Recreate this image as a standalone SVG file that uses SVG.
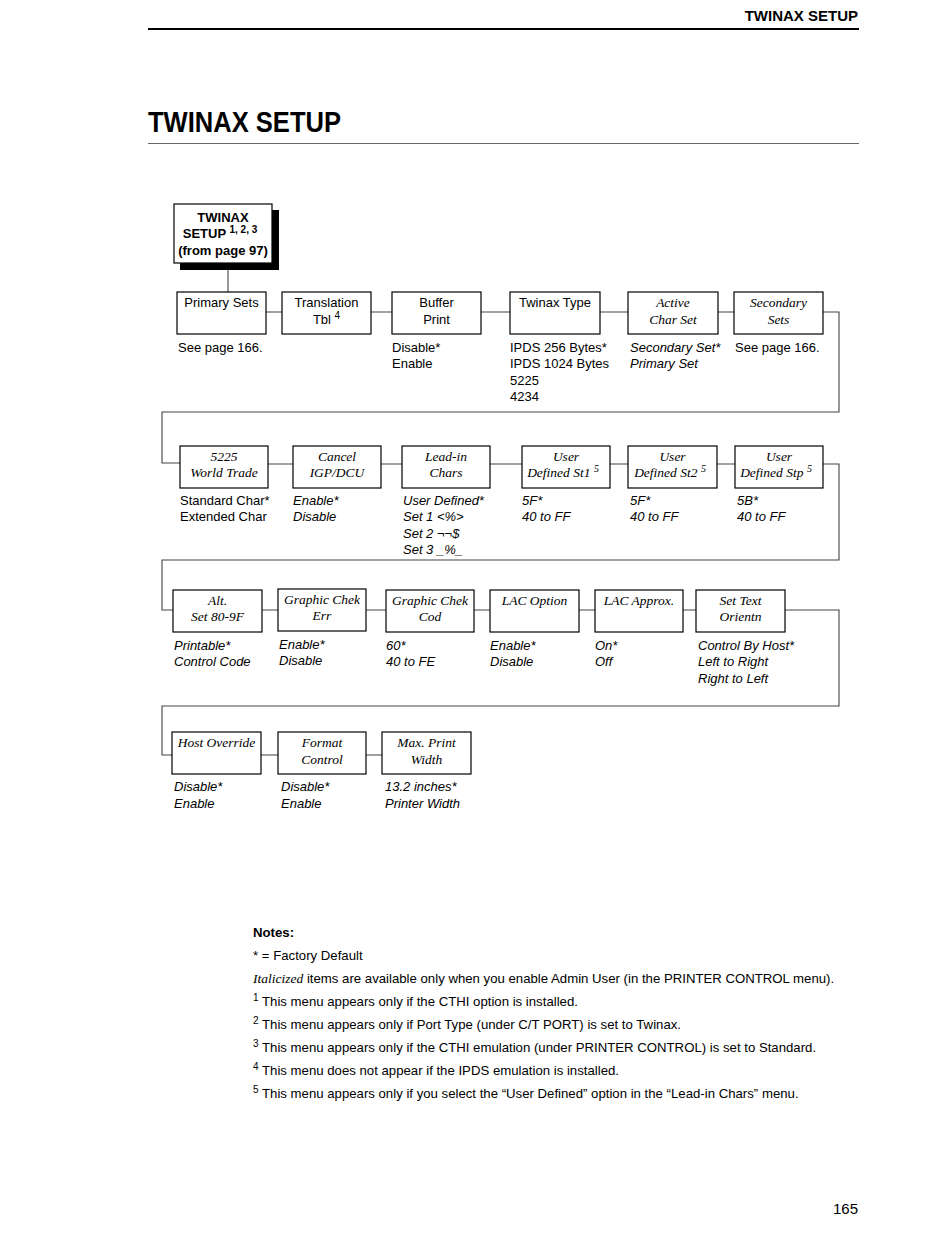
<svg xmlns="http://www.w3.org/2000/svg" width="950" height="1250" viewBox="0 0 950 1250">
<style>
.s{font-family:"Liberation Sans",Arial,sans-serif;font-size:13px;fill:#000}
.si{font-family:"Liberation Sans",Arial,sans-serif;font-size:13px;font-style:italic;fill:#000}
.t{font-family:"Liberation Serif","Times New Roman",serif;font-size:13.5px;font-style:italic;fill:#000}
.n{font-size:13.2px}
.c{text-anchor:middle}
.b{font-weight:bold}
.box{fill:#fff;stroke:#000;stroke-width:1.2}
.ln{fill:none;stroke:#444;stroke-width:1.1}
.sup{font-size:10px}
</style>
<rect width="950" height="1250" fill="#fff"/>
<text x="858" y="21" class="s b" style="font-size:15px" text-anchor="end">TWINAX SETUP</text>
<line x1="148" y1="29" x2="859" y2="29" stroke="#000" stroke-width="2"/>
<text x="148" y="132" class="s b" style="font-size:29px" textLength="193" lengthAdjust="spacingAndGlyphs">TWINAX SETUP</text>
<line x1="148" y1="143.5" x2="859" y2="143.5" stroke="#666" stroke-width="1"/>

<g id="connectors">
<path class="ln" d="M228 263V292"/>
<path class="ln" d="M266 312H282M371 312H392M481 312H510M600 312H628M718 312H734M823 312H839V412H162V463H180"/>
<path class="ln" d="M268 464H293M381 464H402M490 464H522M610 464H628M717 464H735M823 464H839V560H162V610H173"/>
<path class="ln" d="M262 610H278M366 610H386M474 610H490M579 610H595M683 610H696M785 610H839V706H162V755H172"/>
<path class="ln" d="M261 755H278M366 755H382"/>
</g>

<g id="n-top">
<rect x="180" y="210" width="99" height="60" fill="#000"/>
<rect x="174" y="204" width="98" height="59" class="box"/>
<text x="223" y="222" class="s b c">TWINAX</text>
<text x="220" y="238" class="s b c">SETUP <tspan class="sup" dy="-5">1, 2, 3</tspan></text>
<text x="223" y="255" class="s b c">(from page 97)</text>
</g>

<g id="n-primary"><rect x="177" y="292" width="89" height="42" class="box"/><text x="221.5" y="307" class="s c">Primary Sets</text><text x="178" y="352" class="s">See page 166.</text></g>
<g id="n-translation"><rect x="282" y="292" width="89" height="42" class="box"/><text x="326.5" y="307" class="s c">Translation</text><text x="326.5" y="324" class="s c">Tbl <tspan class="sup" dy="-5">4</tspan></text></g>
<g id="n-buffer"><rect x="392" y="292" width="89" height="42" class="box"/><text x="436.5" y="307" class="s c">Buffer</text><text x="436.5" y="324" class="s c">Print</text><text x="392" y="352" class="s">Disable*</text><text x="392" y="368" class="s">Enable</text></g>
<g id="n-twinaxtype"><rect x="510" y="292" width="90" height="42" class="box"/><text x="555" y="307" class="s c">Twinax Type</text><text x="510" y="352" class="s">IPDS 256 Bytes*</text><text x="510" y="368" class="s">IPDS 1024 Bytes</text><text x="510" y="385" class="s">5225</text><text x="510" y="401" class="s">4234</text></g>
<g id="n-active"><rect x="628" y="292" width="90" height="42" class="box"/><text x="673" y="307" class="t c">Active</text><text x="673" y="324" class="t c">Char Set</text><text x="630" y="352" class="si">Secondary Set*</text><text x="630" y="368" class="si">Primary Set</text></g>
<g id="n-secondary"><rect x="734" y="292" width="89" height="42" class="box"/><text x="778.5" y="307" class="t c">Secondary</text><text x="778.5" y="324" class="t c">Sets</text><text x="735" y="352" class="s">See page 166.</text></g>

<g id="n-5225"><rect x="180" y="446" width="88" height="42" class="box"/><text x="224" y="461" class="t c">5225</text><text x="224" y="477" class="t c">World Trade</text><text x="180" y="505" class="s">Standard Char*</text><text x="180" y="521" class="s">Extended Char</text></g>
<g id="n-cancel"><rect x="293" y="446" width="88" height="42" class="box"/><text x="337" y="461" class="t c">Cancel</text><text x="337" y="477" class="t c">IGP/DCU</text><text x="293" y="505" class="si">Enable*</text><text x="293" y="521" class="si">Disable</text></g>
<g id="n-leadin"><rect x="402" y="446" width="88" height="42" class="box"/><text x="446" y="461" class="t c">Lead-in</text><text x="446" y="477" class="t c">Chars</text><text x="403" y="505" class="si">User Defined*</text><text x="403" y="521" class="si">Set 1 &lt;%&gt;</text><text x="403" y="538" class="si">Set 2 ¬¬$</text><text x="403" y="554" class="si">Set 3 _%_</text></g>
<g id="n-st1"><rect x="522" y="446" width="88" height="42" class="box"/><text x="566" y="461" class="t c">User</text><text x="563" y="477" class="t c">Defined St1 <tspan class="sup" dy="-5">5</tspan></text><text x="522" y="505" class="si">5F*</text><text x="522" y="521" class="si">40 to FF</text></g>
<g id="n-st2"><rect x="628" y="446" width="89" height="42" class="box"/><text x="672.5" y="461" class="t c">User</text><text x="670" y="477" class="t c">Defined St2 <tspan class="sup" dy="-5">5</tspan></text><text x="630" y="505" class="si">5F*</text><text x="630" y="521" class="si">40 to FF</text></g>
<g id="n-stp"><rect x="735" y="446" width="88" height="42" class="box"/><text x="779" y="461" class="t c">User</text><text x="776" y="477" class="t c">Defined Stp <tspan class="sup" dy="-5">5</tspan></text><text x="737" y="505" class="si">5B*</text><text x="737" y="521" class="si">40 to FF</text></g>

<g id="n-alt"><rect x="173" y="590" width="89" height="42" class="box"/><text x="217.5" y="605" class="t c">Alt.</text><text x="217.5" y="621" class="t c">Set 80-9F</text><text x="174" y="650" class="si">Printable*</text><text x="174" y="666" class="si">Control Code</text></g>
<g id="n-gcerr"><rect x="278" y="589" width="88" height="42" class="box"/><text x="322" y="604" class="t c">Graphic Chek</text><text x="322" y="620" class="t c">Err</text><text x="279" y="649" class="si">Enable*</text><text x="279" y="665" class="si">Disable</text></g>
<g id="n-gccod"><rect x="386" y="590" width="88" height="42" class="box"/><text x="430" y="605" class="t c">Graphic Chek</text><text x="430" y="621" class="t c">Cod</text><text x="386" y="650" class="si">60*</text><text x="386" y="666" class="si">40 to FE</text></g>
<g id="n-lacopt"><rect x="490" y="590" width="89" height="42" class="box"/><text x="534.5" y="605" class="t c">LAC Option</text><text x="490" y="650" class="si">Enable*</text><text x="490" y="666" class="si">Disable</text></g>
<g id="n-lacapp"><rect x="595" y="590" width="88" height="42" class="box"/><text x="639" y="605" class="t c">LAC Approx.</text><text x="595" y="650" class="si">On*</text><text x="595" y="666" class="si">Off</text></g>
<g id="n-settext"><rect x="696" y="590" width="89" height="42" class="box"/><text x="740.5" y="605" class="t c">Set Text</text><text x="740.5" y="621" class="t c">Orientn</text><text x="698" y="650" class="si">Control By Host*</text><text x="698" y="666" class="si">Left to Right</text><text x="698" y="683" class="si">Right to Left</text></g>

<g id="n-host"><rect x="172" y="732" width="89" height="42" class="box"/><text x="216.5" y="747" class="t c">Host Override</text><text x="174" y="791" class="si">Disable*</text><text x="174" y="808" class="si">Enable</text></g>
<g id="n-format"><rect x="278" y="732" width="88" height="42" class="box"/><text x="322" y="747" class="t c">Format</text><text x="322" y="764" class="t c">Control</text><text x="281" y="791" class="si">Disable*</text><text x="281" y="808" class="si">Enable</text></g>
<g id="n-maxpw"><rect x="382" y="732" width="89" height="42" class="box"/><text x="426.5" y="747" class="t c">Max. Print</text><text x="426.5" y="764" class="t c">Width</text><text x="385" y="791" class="si">13.2 inches*</text><text x="385" y="808" class="si">Printer Width</text></g>

<g id="notes">
<text x="253" y="937" class="s b n">Notes:</text>
<text x="253" y="960" class="s n">* = Factory Default</text>
<text x="253" y="983" class="s n"><tspan class="t">Italicized</tspan> items are available only when you enable Admin User (in the PRINTER CONTROL menu).</text>
<text x="253" y="1006" class="s n"><tspan class="sup" dy="-5">1</tspan><tspan dy="5"> This menu appears only if the CTHI option is installed.</tspan></text>
<text x="253" y="1029" class="s n"><tspan class="sup" dy="-5">2</tspan><tspan dy="5"> This menu appears only if Port Type (under C/T PORT) is set to Twinax.</tspan></text>
<text x="253" y="1052" class="s n"><tspan class="sup" dy="-5">3</tspan><tspan dy="5"> This menu appears only if the CTHI emulation (under PRINTER CONTROL) is set to Standard.</tspan></text>
<text x="253" y="1075" class="s n"><tspan class="sup" dy="-5">4</tspan><tspan dy="5"> This menu does not appear if the IPDS emulation is installed.</tspan></text>
<text x="253" y="1098" class="s n"><tspan class="sup" dy="-5">5</tspan><tspan dy="5"> This menu appears only if you select the “User Defined” option in the “Lead-in Chars” menu.</tspan></text>
</g>
<text x="858" y="1214" class="s" style="font-size:15px" text-anchor="end">165</text>
</svg>
